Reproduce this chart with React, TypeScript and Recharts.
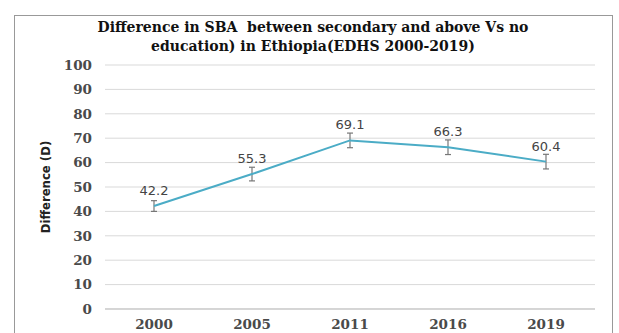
import { LineChart, Line, XAxis, YAxis, CartesianGrid, ErrorBar, LabelList, Label } from "recharts"

const years = ["2000", "2005", "2011", "2016", "2019"]
const difference = [42.2, 55.3, 69.1, 66.3, 60.4]
const errors = [2.2, 2.8, 3, 3, 3]
const yTicks = [0, 10, 20, 30, 40, 50, 60, 70, 80, 90, 100]

const data = years.map((year, i) => ({ year, value: difference[i], err: errors[i] }))

const serif = "'DejaVu Serif', 'Liberation Serif', serif"

const tickStyle = {
  fontFamily: serif,
  fontSize: 13.5,
  fontWeight: 700,
  fill: "#4a4a4a",
}

export default function App() {
  return (
    <div style={{ position: "fixed", left: 0, top: 0, width: 619, height: 333, background: "#fff" }}>
      <div
        style={{
          position: "absolute",
          left: 14,
          top: 15,
          width: 597,
          height: 340,
          border: "1px solid #999",
        }}
      />
      <div
        style={{
          position: "absolute",
          left: 0,
          top: 18,
          width: 626,
          textAlign: "center",
          fontFamily: serif,
          fontWeight: 700,
          fontSize: 14,
          lineHeight: "19px",
          color: "#111",
        }}
      >
        Difference in SBA&nbsp; between secondary and above Vs no
        <br />
        education) in Ethiopia(EDHS 2000-2019)
      </div>
      <div style={{ position: "absolute", left: 0, top: 0 }}>
        <LineChart width={619} height={333} data={data} margin={{ top: 65, right: 24, bottom: 0, left: 0 }}>
          <CartesianGrid vertical={false} stroke="#d9d9d9" />
          <XAxis
            dataKey="year"
            height={24}
            padding={{ left: 49, right: 49 }}
            tickLine={false}
            axisLine={{ stroke: "#bfbfbf" }}
            tick={tickStyle}
            tickMargin={4}
            interval={0}
          />
          <YAxis
            width={105}
            domain={[0, 100]}
            ticks={yTicks}
            axisLine={false}
            tickLine={false}
            tickSize={0}
            tickMargin={13}
            tick={tickStyle}
          >
            <Label
              value="Difference (D)"
              angle={-90}
              position="insideLeft"
              dx={40}
              style={{
                fontFamily: "'Liberation Sans Narrow', 'DejaVu Sans Condensed', sans-serif",
                fontSize: 13,
                fontWeight: 700,
                fill: "#222",
                textAnchor: "middle",
              }}
            />
          </YAxis>
          <Line
            type="linear"
            dataKey="value"
            stroke="#4bacc6"
            strokeWidth={2}
            dot={false}
            isAnimationActive={false}
          >
            <ErrorBar dataKey="err" width={3} stroke="#777" strokeWidth={1.2} />
            <LabelList
              dataKey="value"
              position="top"
              offset={11}
              style={{ fontFamily: "'DejaVu Sans', sans-serif", fontSize: 13, fill: "#444" }}
            />
          </Line>
        </LineChart>
      </div>
    </div>
  )
}
